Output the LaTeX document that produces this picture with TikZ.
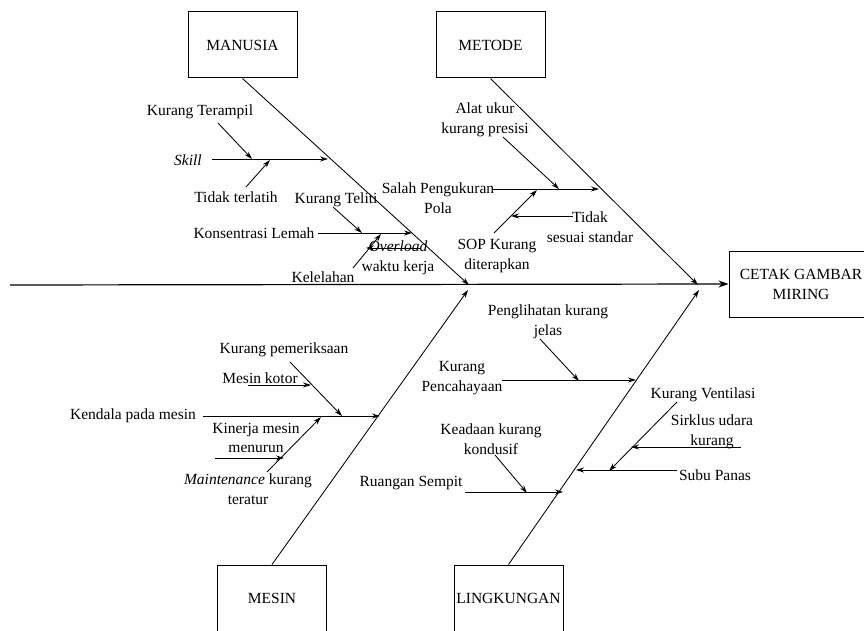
\documentclass[tikz,border=0pt]{standalone}
\usepackage{fontspec}
\setmainfont{Liberation Serif}
\usetikzlibrary{arrows.meta}
\begin{document}
\begin{tikzpicture}[x=1pt,y=-1pt,
  txt/.style={inner sep=0pt,align=center,font=\fontsize{15.5}{19.5}\selectfont},
  box/.style={draw,line width=1pt,minimum width=109pt,minimum height=66pt,inner sep=0pt,font=\fontsize{15.5}{20}\selectfont},
  bone/.style={line width=0.85pt,-{Stealth[length=8pt,width=5pt]}},
  spine/.style={line width=1.2pt,-{Stealth[length=10pt,width=7pt]}}]
\useasboundingbox (0,0) rectangle (864,631);
\clip (0,0) rectangle (864,631);
% boxes
\node[box] (manusia) at (242.5,45) {MANUSIA};
\node[box] (metode) at (490.5,45) {METODE};
\node[box] (mesin) at (272,598) {MESIN};
\node[box] (lingk) at (508.5,598) {LINGKUNGAN};
\node[box,minimum width=144pt,align=center] (cetak) at (801,284) {CETAK GAMBAR\\MIRING};
% spine
\coordinate (s0) at (10,285);
\draw[spine] (s0) -- (cetak.west);
\coordinate (jm) at (469,285);
\coordinate (jt) at (698,285);
\coordinate (jms) at (468,290);
\coordinate (jl) at (699,290);
\draw[bone] (manusia.south) -- (jm);
\draw[bone] (metode.south) -- (jt);
\draw[bone] (mesin.north) -- (jms);
\draw[bone] (lingk.north) -- (jl);
% MANUSIA
\node[txt] (kterampil) at (200,112) {Kurang Terampil};
\node[txt,font=\fontsize{15.5}{19.5}\selectfont\itshape] (skill) at (188,160) {Skill};
\node[txt] (tterlatih) at (236,197) {Tidak terlatih};
\node[txt] (kteliti) at (336,200) {Kurang Teliti};
\node[txt] (konsen) at (254,233) {Konsentrasi Lemah};
\node[txt] (kelelahan) at (323,277) {Kelelahan};
\node[txt] (overload) at (398,258) {\itshape Overload\\waktu kerja};
\coordinate (sk1) at (212,159);
\coordinate (sk2) at (328,159);
\draw[bone] (sk1) -- (sk2);
\coordinate (kt1) at (218,123);
\coordinate (kt2) at (252,159);
\draw[bone] (kt1) -- (kt2);
\coordinate (tt1) at (246,187);
\coordinate (tt2) at (270,160);
\draw[bone] (tt1) -- (tt2);
\coordinate (ko1) at (318,233);
\coordinate (ko2) at (412,233);
\draw[bone] (ko1) -- (ko2);
\coordinate (kl1) at (333,207);
\coordinate (kl2) at (362,233);
\draw[bone] (kl1) -- (kl2);
\coordinate (ke1) at (353,268);
\coordinate (ke2) at (381,234);
\draw[bone] (ke1) -- (ke2);
\coordinate (ov1) at (420,248);
\coordinate (ov2) at (366,248);
\draw[bone] (ov1) -- (ov2);
% METODE
\node[txt] (alat) at (485,120) {Alat ukur\\kurang presisi};
\node[txt] (salah) at (438,198) {Salah Pengukuran\\Pola};
\node[txt] (sop) at (497,256) {SOP Kurang\\diterapkan};
\node[txt] (tidak) at (590,227) {Tidak\\sesuai standar};
\coordinate (sa1) at (493,189);
\coordinate (sa2) at (599,189);
\draw[bone] (sa1) -- (sa2);
\coordinate (al1) at (503,137);
\coordinate (al2) at (559,189);
\draw[bone] (al1) -- (al2);
\coordinate (so1) at (494,233);
\coordinate (so2) at (537,190);
\draw[bone] (so1) -- (so2);
\coordinate (ti1) at (573,216);
\coordinate (ti2) at (511,216);
\draw[bone] (ti1) -- (ti2);
% MESIN
\node[txt] (kpem) at (284,350) {Kurang pemeriksaan};
\node[txt] (mkotor) at (260,378) {Mesin kotor};
\node[txt] (kendala) at (133,416) {Kendala pada mesin};
\node[txt] (kinerja) at (256,438) {Kinerja mesin\\menurun};
\node[txt] (maint) at (248,489) {\itshape Maintenance\upshape{} kurang\\teratur};
\coordinate (kd1) at (203,416);
\coordinate (kd2) at (380,416);
\draw[bone] (kd1) -- (kd2);
\coordinate (kp1) at (290,362);
\coordinate (kp2) at (342,416);
\draw[bone] (kp1) -- (kp2);
\coordinate (mk1) at (248,385);
\coordinate (mk2) at (311,385);
\draw[bone] (mk1) -- (mk2);
\coordinate (ma1) at (267,472);
\coordinate (ma2) at (321,417);
\draw[bone] (ma1) -- (ma2);
\coordinate (mn1) at (215,458);
\coordinate (mn2) at (284,458);
\draw[bone] (mn1) -- (mn2);
% LINGKUNGAN
\node[txt] (pengl) at (548,322) {Penglihatan kurang\\jelas};
\node[txt] (kpenc) at (462,378) {Kurang\\Pencahayaan};
\node[txt] (keadaan) at (491,439) {Keadaan kurang\\kondusif};
\node[txt] (ruangan) at (411,483) {Ruangan Sempit};
\node[txt] (kvent) at (703,395) {Kurang Ventilasi};
\node[txt] (sirk) at (712,432) {Sirklus udara\\kurang};
\node[txt] (subu) at (715,475) {Subu Panas};
\coordinate (pc1) at (502,380);
\coordinate (pc2) at (636,380);
\draw[bone] (pc1) -- (pc2);
\coordinate (pg1) at (540,339);
\coordinate (pg2) at (579,381);
\draw[bone] (pg1) -- (pg2);
\coordinate (ru1) at (465,492);
\coordinate (ru2) at (563,492);
\draw[bone] (ru1) -- (ru2);
\coordinate (kd3) at (495,455);
\coordinate (kd4) at (527,493);
\draw[bone] (kd3) -- (kd4);
\coordinate (sb1) at (677,470);
\coordinate (sb2) at (576,470);
\draw[bone] (sb1) -- (sb2);
\coordinate (kv1) at (677,402);
\coordinate (kv2) at (609,471);
\draw[bone] (kv1) -- (kv2);
\coordinate (si1) at (741,447);
\coordinate (si2) at (631,447);
\draw[bone] (si1) -- (si2);
\end{tikzpicture}
\end{document}
